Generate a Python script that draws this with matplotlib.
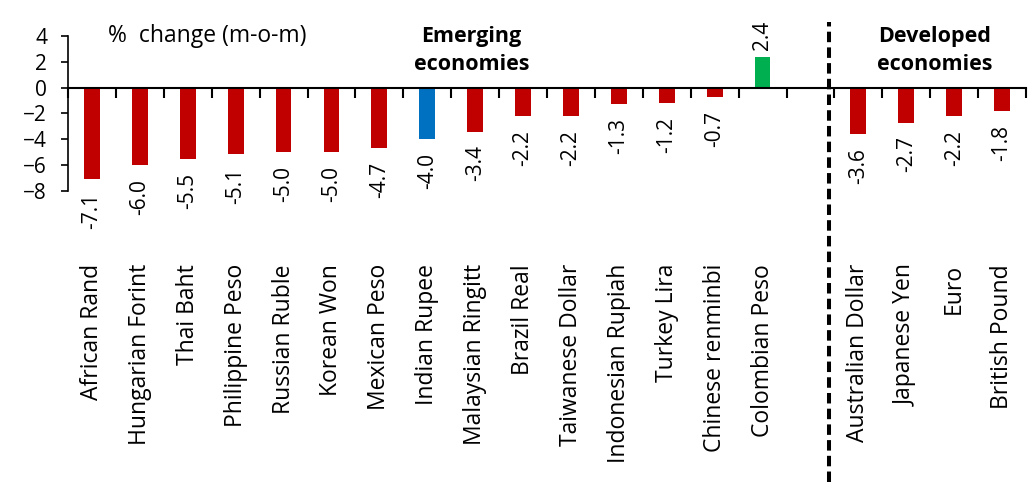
import numpy as np
import matplotlib.pyplot as plt
import matplotlib.transforms as mtransforms

plt.rcParams['font.family'] = ['Open Sans', 'DejaVu Sans']

emerging = ['African Rand', 'Hungarian Forint', 'Thai Baht', 'Philippine Peso',
            'Russian Ruble', 'Korean Won', 'Mexican Peso', 'Indian Rupee',
            'Malaysian Ringitt', 'Brazil Real', 'Taiwanese Dollar',
            'Indonesian Rupiah', 'Turkey Lira', 'Chinese renminbi', 'Colombian Peso']
emerging_chg = [-7.1, -6.0, -5.5, -5.1, -5.0, -5.0, -4.7, -4.0,
                -3.4, -2.2, -2.2, -1.3, -1.2, -0.7, 2.4]
developed = ['Australian Dollar', 'Japanese Yen', 'Euro', 'British Pound']
developed_chg = [-3.6, -2.7, -2.2, -1.8]

# one empty slot between the two groups
labels = emerging + [''] + developed
values = emerging_chg + [np.nan] + developed_chg
x = np.arange(len(labels))

colors = []
for name, v in zip(labels, values):
    if name == 'Indian Rupee':
        colors.append('#0070C0')
    elif v > 0:
        colors.append('#00B050')
    else:
        colors.append('#C00000')

fig = plt.figure(figsize=(10.35, 4.82), dpi=100)
ax = fig.add_axes([68/1035, 1 - 191/482, 958/1035, 155/482])

ax.bar(x, np.nan_to_num(values), width=0.33, color=colors, zorder=2)

ax.set_xlim(-0.5, len(labels) - 0.5)
ax.set_ylim(-8, 4)
ax.set_yticks(np.arange(-8, 5, 2))
ax.tick_params(axis='y', labelsize=15, length=5, width=1.2, direction='out', pad=10)

# category axis sits on zero with ticks between categories
ax.spines['bottom'].set_position(('data', 0))
ax.spines['bottom'].set_linewidth(1.5)
ax.spines['left'].set_linewidth(1.2)
ax.spines['top'].set_visible(False)
ax.spines['right'].set_visible(False)
ax.set_xticks(np.arange(len(labels) + 1) - 0.5)
ax.set_xticklabels([])
ax.tick_params(axis='x', length=7, width=1.5, direction='out')

# value labels
for xi, v in zip(x, values):
    if np.isnan(v):
        continue
    if v < 0:
        ax.annotate(f'{v:.1f}', (xi, v), xytext=(0, -10), textcoords='offset points',
                    rotation=90, ha='center', va='top', fontsize=15)
    else:
        ax.annotate(f'{v:.1f}', (xi, v), xytext=(0, 5), textcoords='offset points',
                    rotation=90, ha='center', va='bottom', fontsize=15)

# category names at the bottom
fig_x = mtransforms.blended_transform_factory(ax.transData, fig.transFigure)
for xi, name in zip(x, labels):
    ax.text(xi, 1 - 264/482, name, transform=fig_x, rotation=90,
            ha='center', va='top', fontsize=16.5)

# divider between emerging and developed
ax.plot([15.38, 15.38], [0, 1 - 22/482], transform=fig_x,
        color='black', lw=2.9, ls=(0, (2.6, 1.3)), clip_on=False)

ax.text(0.33, 4.0, '%  change (m-o-m)', fontsize=16.5, ha='left', va='center')
ax.text(7.92, 2.85, 'Emerging\neconomies', fontsize=15.5, fontweight='bold',
        ha='center', va='center', linespacing=1.45)
ax.text(17.6, 2.85, 'Developed\neconomies', fontsize=15.5, fontweight='bold',
        ha='center', va='center', linespacing=1.45)

fig.savefig('out.png', dpi=100)
